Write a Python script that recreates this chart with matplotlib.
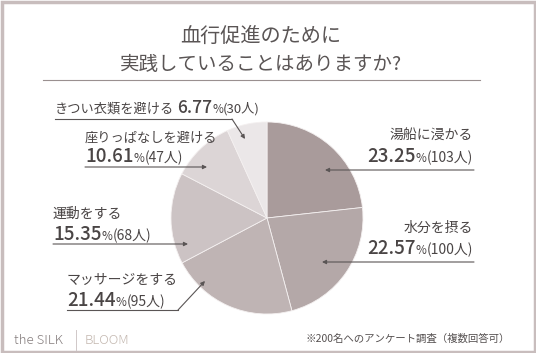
import matplotlib
matplotlib.use("Agg")
import matplotlib.pyplot as plt
from matplotlib.patches import Rectangle

plt.rcParams['font.family'] = ['Noto Sans CJK JP', 'DejaVu Sans']

labels = ['湯船に浸かる', '水分を摂る', 'マッサージをする', '運動をする', '座りっぱなしを避ける', 'きつい衣類を避ける']
pcts = [23.25, 22.57, 21.44, 15.35, 10.61, 6.77]
counts = [103, 100, 95, 68, 47, 30]
colors = ['#a99b9b', '#b4a8a8', '#bfb4b4', '#ccc3c4', '#dcd5d6', '#ebe7e8']

W, H = 536, 353
fig = plt.figure(figsize=(W / 100, H / 100), dpi=100)
fig.patch.set_facecolor('white')

# overlay axes in pixel coords (y down)
ov = fig.add_axes([0, 0, 1, 1])
ov.set_xlim(0, W)
ov.set_ylim(H, 0)
ov.axis('off')
ov.add_patch(Rectangle((1.5, 1.5), W - 3, H - 3, fill=False, ec='#c8bdbd', lw=2.5))

# pie
cx, cy, r = 267, 218, 96
pax = fig.add_axes([(cx - r) / W, (H - cy - r) / H, 2 * r / W, 2 * r / H])
pax.pie(pcts, colors=colors, startangle=90, counterclock=False,
        wedgeprops=dict(edgecolor='#f4f0f0', linewidth=0.6))
pax.set_xlim(-1, 1)
pax.set_ylim(-1, 1)
pax.set_aspect('equal')
pax.set_zorder(0)
ov.set_zorder(1)
ov.patch.set_alpha(0)

txt = '#4a4545'
# title
ov.text(261, 36, '血行促進のために', ha='center', va='center', fontsize=14.5, color='#5a5555')
ov.text(261, 64, '実践していることはありますか?', ha='center', va='center', fontsize=14, color='#5a5555')
ov.plot([43, 480], [80, 80], color='#9a9090', lw=0.8)

renderer = fig.canvas.get_renderer()


def parts(x, y, items, ha='left'):
    # items: list of (text, fontsize, weight); drawn as one baseline row
    objs = []
    for s, fs, wt in items:
        t = ov.text(0, y, s, fontsize=fs, fontweight=wt, color=txt, va='baseline', ha='left')
        objs.append(t)
    widths = []
    inv = ov.transData.inverted()
    for t in objs:
        bb = t.get_window_extent(renderer)
        p0 = inv.transform((bb.x0, bb.y0))
        p1 = inv.transform((bb.x1, bb.y0))
        widths.append(p1[0] - p0[0])
    total = sum(widths)
    pos = x if ha == 'left' else x - total
    for t, w in zip(objs, widths):
        t.set_x(pos)
        pos += w


def pct_items(i):
    return [('%.2f' % pcts[i], 13.5, 'medium'), ('%', 8.5, 'normal'), ('(%d人)' % counts[i], 10, 'normal')]


def arrow(pts):
    xs = [p[0] for p in pts]
    ys = [p[1] for p in pts]
    ov.plot(xs[:-1], ys[:-1], color='#5a5555', lw=0.8)
    ov.annotate('', xy=pts[-1], xytext=pts[-2],
                arrowprops=dict(arrowstyle='-|>', color='#5a5555', lw=0.8,
                                mutation_scale=6, shrinkA=0, shrinkB=0))


# 湯船に浸かる
parts(473, 140, [(labels[0], 10, 'normal')], ha='right')
parts(473, 162, pct_items(0), ha='right')
arrow([(474, 170), (325, 170)])

# 水分を摂る
parts(473, 232, [(labels[1], 10, 'normal')], ha='right')
parts(473, 254, pct_items(1), ha='right')
arrow([(474, 262), (322, 262)])

# マッサージをする
parts(67, 284, [(labels[2], 10, 'normal')])
parts(67, 306, pct_items(2))
arrow([(67, 310), (178, 310), (205, 281)])

# 運動をする
parts(53, 218, [(labels[3], 10, 'normal')])
parts(53, 240, pct_items(3))
arrow([(53, 244), (188, 244)])

# 座りっぱなしを避ける
parts(85, 142, [(labels[4], 9.5, 'normal')])
parts(85, 162, pct_items(4))
arrow([(85, 167), (207, 167)])

# きつい衣類を避ける
parts(55, 113, [(labels[5], 9.5, 'normal'), (' ', 9.5, 'normal'),
                ('%.2f' % pcts[5], 12.5, 'medium'), ('%', 8.5, 'normal'), ('(%d人)' % counts[5], 9.5, 'normal')])
arrow([(55, 119), (232, 119), (245, 139)])

# footer
ov.text(14, 340, 'the SILK', fontsize=9.5, color='#857d7d', va='center', ha='left', fontweight='light')
ov.plot([76, 76], [330, 350], color='#d0c8c8', lw=0.7)
ov.text(85, 340, 'BLOOM', fontsize=9.5, color='#c4b8b0', va='center', ha='left', fontweight='light')
ov.text(510, 339, '※200名へのアンケート調査（複数回答可）', fontsize=7.5, color='#555050',
        va='center', ha='right')

fig.savefig('out.png', dpi=100)
